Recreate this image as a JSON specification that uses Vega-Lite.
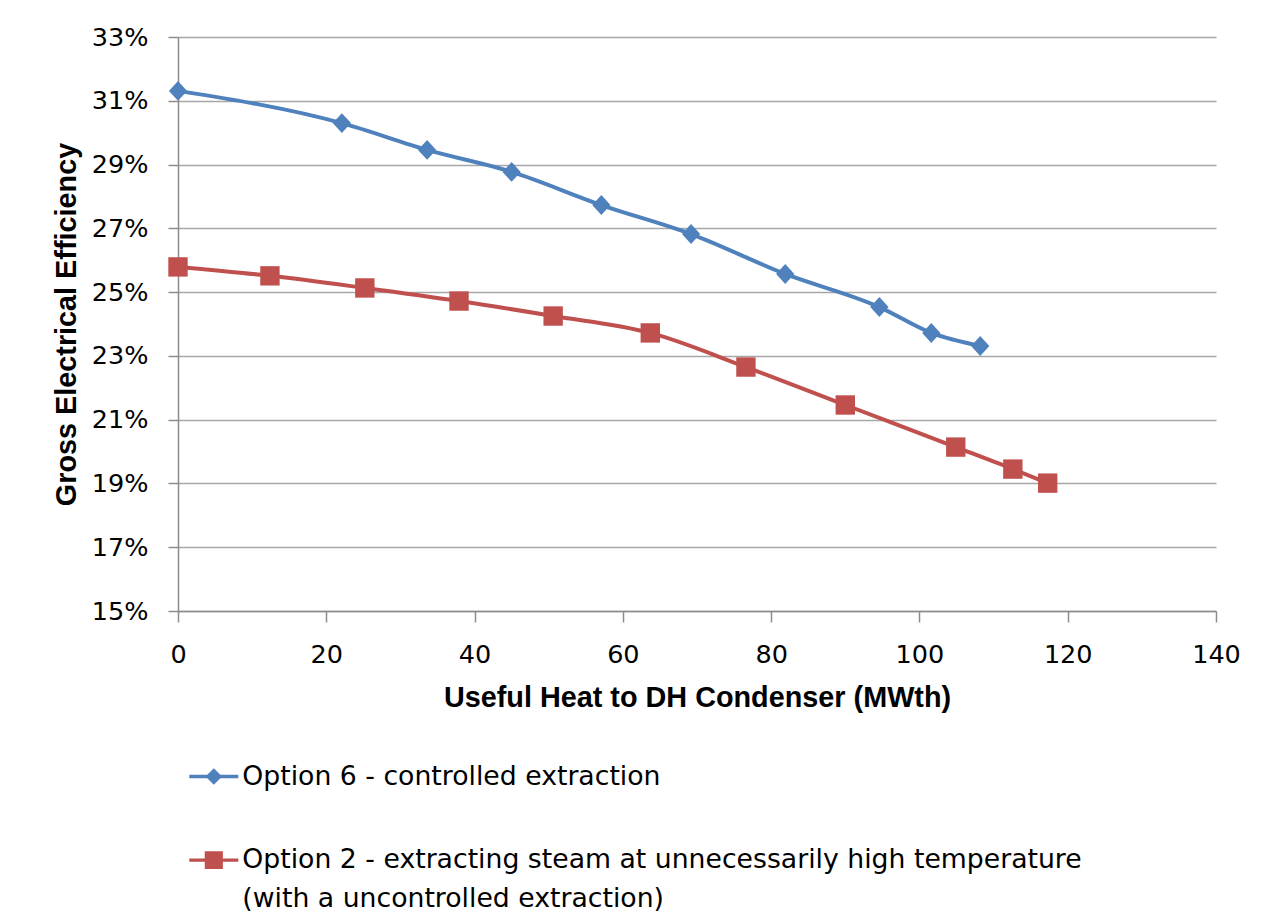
{
  "$schema": "https://vega.github.io/schema/vega-lite/v6.json",
  "width": 1038,
  "height": 574,
  "autosize": {"type": "none"},
  "padding": {"left": 178, "top": 37, "right": 52, "bottom": 308},
  "background": "white",
  "data": {
    "values": [
      {"series": "Option 6 - controlled extraction", "heat": 0, "eff": 0.3131},
      {"series": "Option 6 - controlled extraction", "heat": 22.1, "eff": 0.3030},
      {"series": "Option 6 - controlled extraction", "heat": 33.6, "eff": 0.2946},
      {"series": "Option 6 - controlled extraction", "heat": 45.0, "eff": 0.2877},
      {"series": "Option 6 - controlled extraction", "heat": 57.1, "eff": 0.2773},
      {"series": "Option 6 - controlled extraction", "heat": 69.2, "eff": 0.2682},
      {"series": "Option 6 - controlled extraction", "heat": 81.9, "eff": 0.2557},
      {"series": "Option 6 - controlled extraction", "heat": 94.6, "eff": 0.2453},
      {"series": "Option 6 - controlled extraction", "heat": 101.6, "eff": 0.2372},
      {"series": "Option 6 - controlled extraction", "heat": 108.2, "eff": 0.2331},
      {"series": "Option 2 - extracting steam at unnecessarily high temperature (with a uncontrolled extraction)", "heat": 0, "eff": 0.2579},
      {"series": "Option 2 - extracting steam at unnecessarily high temperature (with a uncontrolled extraction)", "heat": 12.4, "eff": 0.2551},
      {"series": "Option 2 - extracting steam at unnecessarily high temperature (with a uncontrolled extraction)", "heat": 25.2, "eff": 0.2513},
      {"series": "Option 2 - extracting steam at unnecessarily high temperature (with a uncontrolled extraction)", "heat": 37.9, "eff": 0.2472},
      {"series": "Option 2 - extracting steam at unnecessarily high temperature (with a uncontrolled extraction)", "heat": 50.6, "eff": 0.2425},
      {"series": "Option 2 - extracting steam at unnecessarily high temperature (with a uncontrolled extraction)", "heat": 63.7, "eff": 0.2372},
      {"series": "Option 2 - extracting steam at unnecessarily high temperature (with a uncontrolled extraction)", "heat": 76.6, "eff": 0.2265},
      {"series": "Option 2 - extracting steam at unnecessarily high temperature (with a uncontrolled extraction)", "heat": 90.0, "eff": 0.2146},
      {"series": "Option 2 - extracting steam at unnecessarily high temperature (with a uncontrolled extraction)", "heat": 104.9, "eff": 0.2014},
      {"series": "Option 2 - extracting steam at unnecessarily high temperature (with a uncontrolled extraction)", "heat": 112.6, "eff": 0.1945},
      {"series": "Option 2 - extracting steam at unnecessarily high temperature (with a uncontrolled extraction)", "heat": 117.3, "eff": 0.1901}
    ]
  },
  "encoding": {
    "x": {
      "field": "heat",
      "type": "quantitative",
      "scale": {"domain": [0, 140], "nice": false, "zero": false},
      "axis": {
        "values": [0, 20, 40, 60, 80, 100, 120, 140],
        "grid": false,
        "title": "Useful Heat to DH Condenser (MWth)"
      }
    },
    "y": {
      "field": "eff",
      "type": "quantitative",
      "scale": {"domain": [0.15, 0.33], "nice": false, "zero": false},
      "axis": {
        "values": [0.15, 0.17, 0.19, 0.21, 0.23, 0.25, 0.27, 0.29, 0.31, 0.33],
        "format": ".0%",
        "grid": true,
        "title": "Gross Electrical Efficiency"
      }
    }
  },
  "layer": [
    {
      "mark": {"type": "line", "interpolate": "monotone", "strokeWidth": 4},
      "encoding": {
        "color": {
          "field": "series",
          "type": "nominal",
          "scale": {
            "domain": ["Option 6 - controlled extraction", "Option 2 - extracting steam at unnecessarily high temperature (with a uncontrolled extraction)"],
            "range": ["#4f81bd", "#c0504d"]
          },
          "legend": null
        }
      }
    },
    {
      "mark": {"type": "point", "filled": true, "opacity": 1, "size": 361},
      "encoding": {
        "color": {
          "field": "series",
          "type": "nominal",
          "scale": {
            "domain": ["Option 6 - controlled extraction", "Option 2 - extracting steam at unnecessarily high temperature (with a uncontrolled extraction)"],
            "range": ["#4f81bd", "#c0504d"]
          },
          "legend": null
        },
        "shape": {
          "field": "series",
          "type": "nominal",
          "scale": {
            "domain": ["Option 6 - controlled extraction", "Option 2 - extracting steam at unnecessarily high temperature (with a uncontrolled extraction)"],
            "range": ["M0,-1.05L0.96,0L0,1.05L-0.96,0Z", "M-1.02,-1.02H1.02V1.02H-1.02Z"]
          },
          "legend": null
        }
      }
    },
    {
      "mark": {"type": "point", "filled": true, "opacity": 0, "size": 10},
      "encoding": {
        "color": {
          "field": "series",
          "type": "nominal",
          "scale": {
            "domain": ["Option 6 - controlled extraction", "Option 2 - extracting steam at unnecessarily high temperature (with a uncontrolled extraction)"],
            "range": ["#4f81bd", "#c0504d"]
          },
          "legend": {
            "orient": "none",
            "legendX": 11.3,
            "legendY": 715,
            "direction": "vertical",
            "title": null,
            "padding": 0,
            "symbolSize": 2401,
            "symbolStrokeWidth": 0,
            "symbolOpacity": 1,
            "labelFont": "DejaVu Sans",
            "labelFontSize": 26.7,
            "labelColor": "#000000",
            "labelLimit": 3000,
            "labelOffset": 4,
            "rowPadding": 44.6,
            "labelExpr": "datum.index === 1 ? ['Option 2 - extracting steam at unnecessarily high temperature', '(with a uncontrolled extraction)'] : datum.label",
            "encode": {"labels": {"update": {"lineHeight": {"value": 39}}}}
          }
        },
        "shape": {
          "field": "series",
          "type": "nominal",
          "scale": {
            "domain": ["Option 6 - controlled extraction", "Option 2 - extracting steam at unnecessarily high temperature (with a uncontrolled extraction)"],
            "range": [
              "M-1,-0.067H1V0.067H-1ZM0,-0.34L0.34,0L0,0.34L-0.34,0Z",
              "M-1,-0.067H1V0.067H-1ZM-0.37,-0.36H0.37V0.36H-0.37Z"
            ]
          },
          "legend": {
            "orient": "none",
            "legendX": 11.3,
            "legendY": 715,
            "direction": "vertical",
            "title": null,
            "padding": 0,
            "symbolSize": 2401,
            "symbolStrokeWidth": 0,
            "symbolOpacity": 1,
            "labelFont": "DejaVu Sans",
            "labelFontSize": 26.7,
            "labelColor": "#000000",
            "labelLimit": 3000,
            "labelOffset": 4,
            "rowPadding": 44.6,
            "labelExpr": "datum.index === 1 ? ['Option 2 - extracting steam at unnecessarily high temperature', '(with a uncontrolled extraction)'] : datum.label",
            "encode": {"labels": {"update": {"lineHeight": {"value": 39}}}}
          }
        }
      }
    }
  ],
  "resolve": {"scale": {"color": "independent", "shape": "independent"}},
  "config": {
    "view": {"stroke": null},
    "axis": {
      "domainColor": "#8c8c8c",
      "domainWidth": 1.5,
      "tickColor": "#8c8c8c",
      "tickWidth": 1.5,
      "gridColor": "#a6a6a6",
      "gridWidth": 1.5,
      "labelFont": "DejaVu Sans",
      "labelFontSize": 25.5,
      "labelColor": "#000000",
      "labelFlush": false,
      "labelOverlap": false,
      "titleFont": "Liberation Sans",
      "titleFontSize": 28.8,
      "titleFontWeight": "bold",
      "titleColor": "#000000"
    },
    "axisX": {"tickSize": 11, "labelPadding": 20, "titlePadding": 16},
    "axisY": {"tickSize": 10, "labelPadding": 20, "titlePadding": 10}
  }
}
